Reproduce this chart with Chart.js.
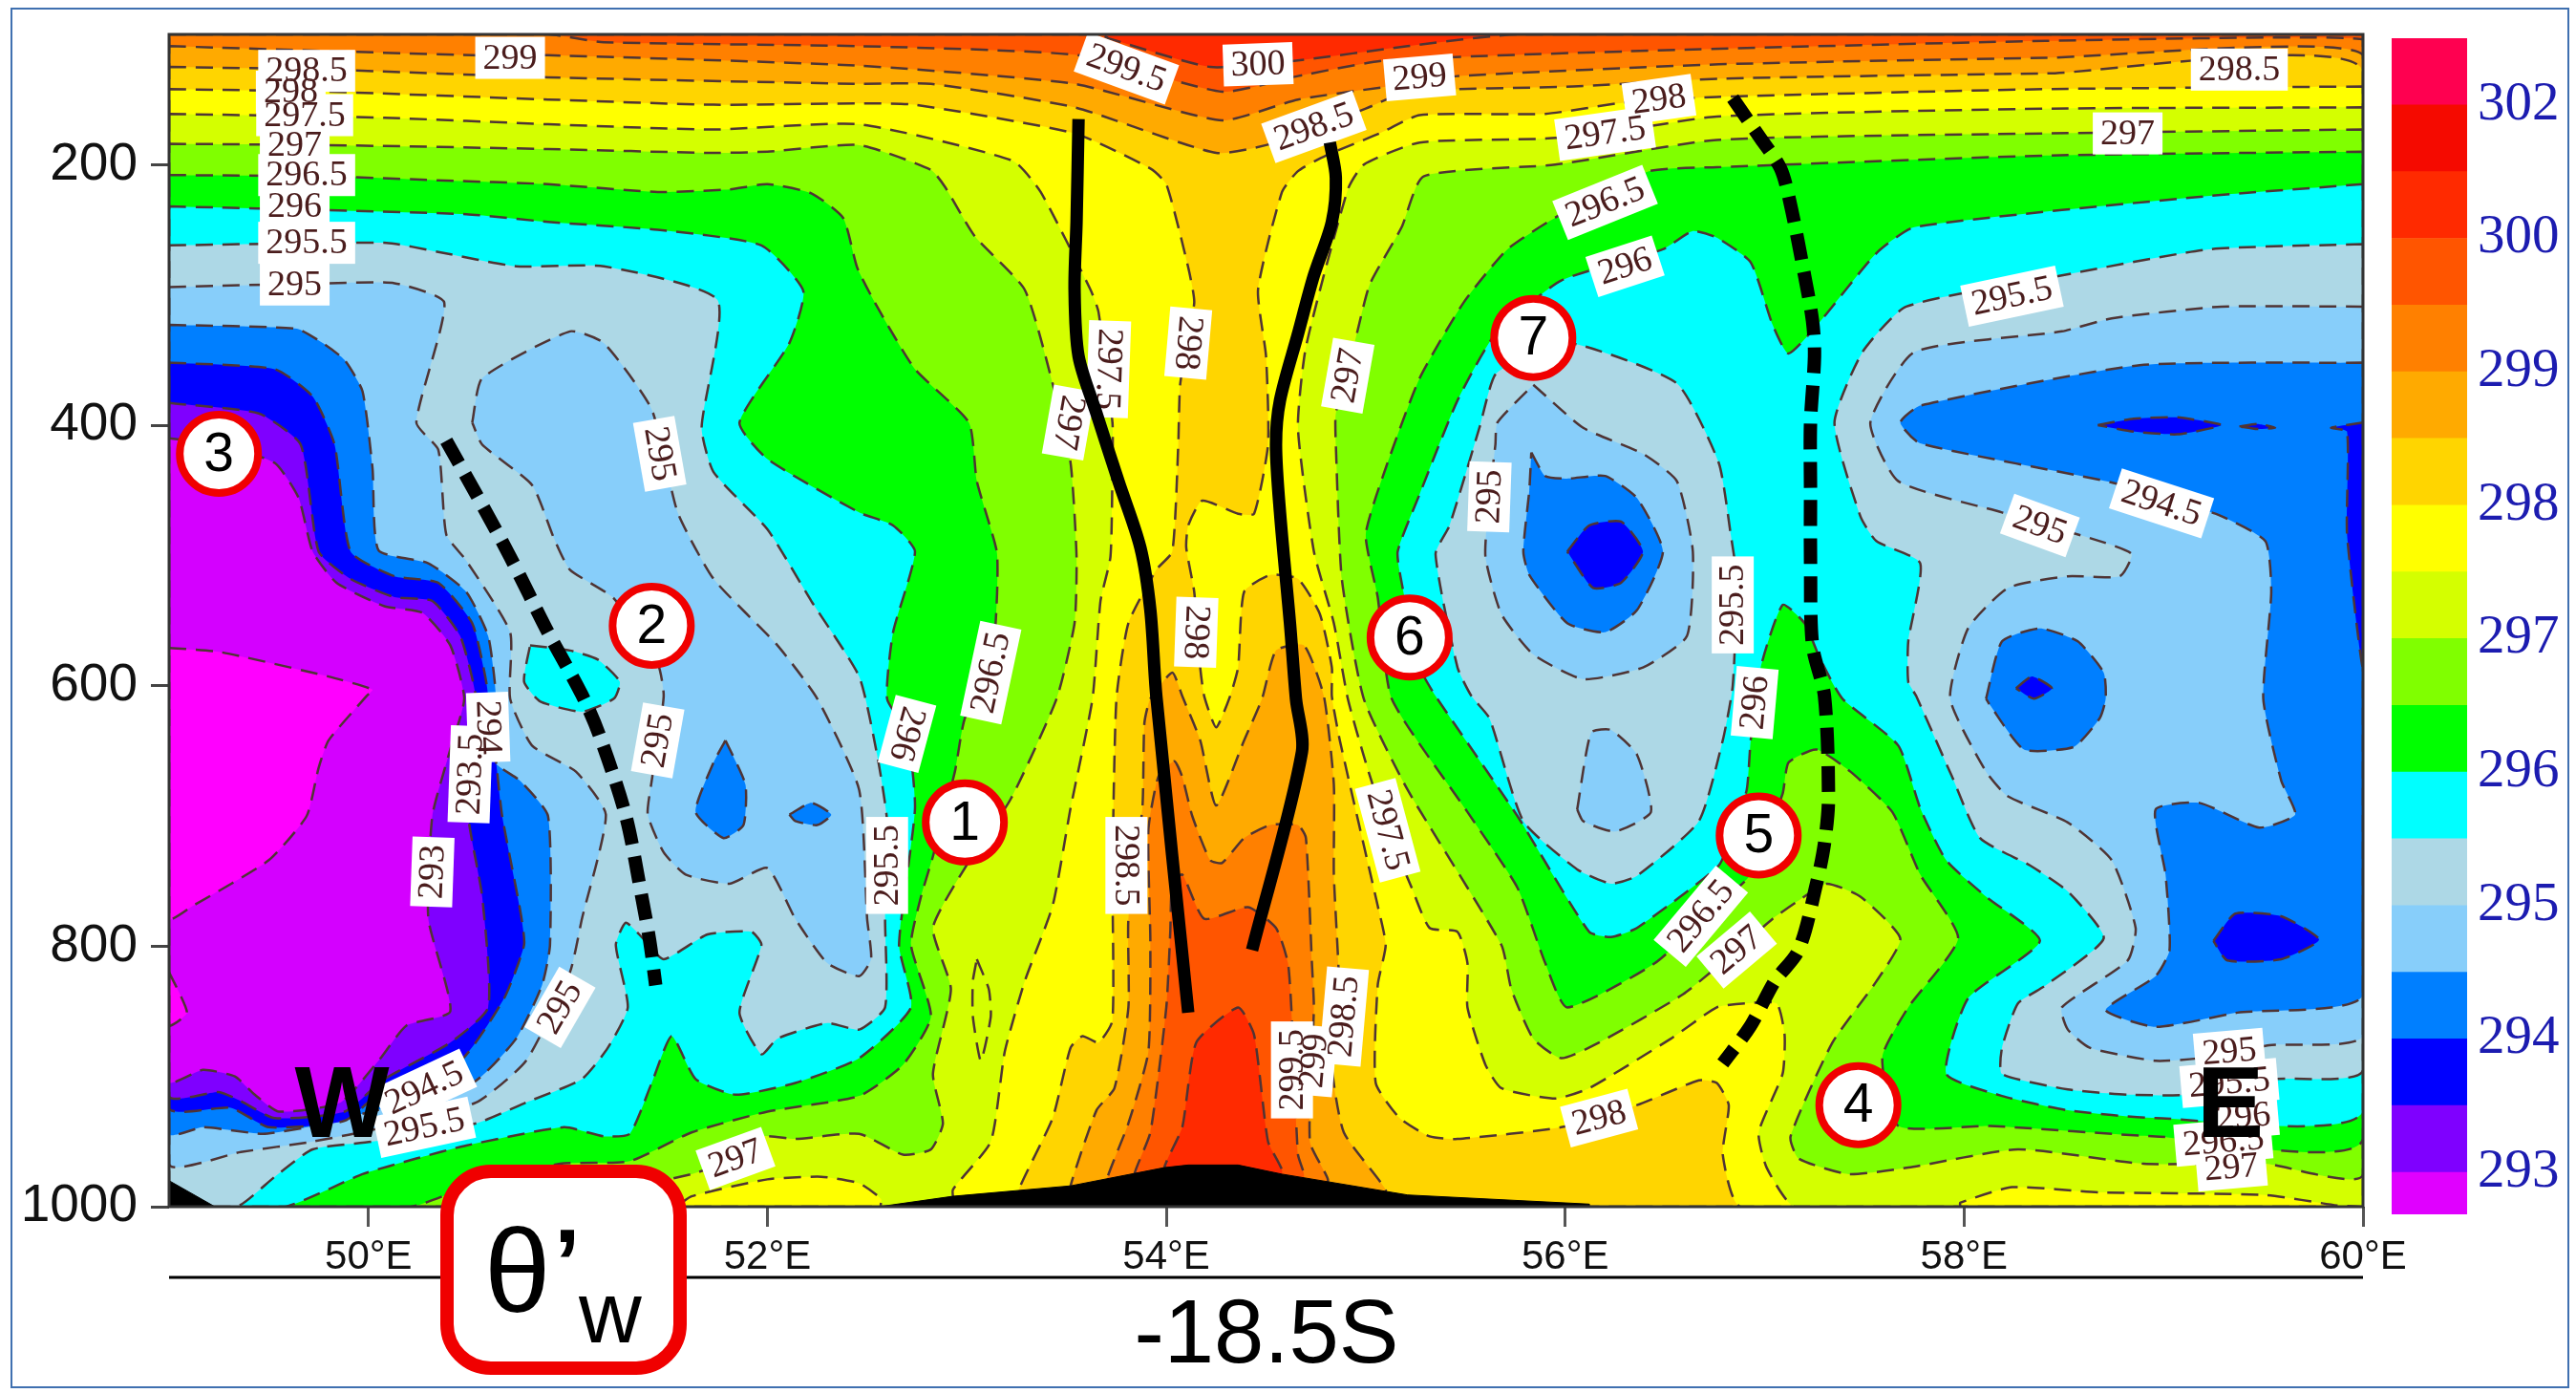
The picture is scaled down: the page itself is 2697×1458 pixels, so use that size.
<!DOCTYPE html>
<html>
<head>
<meta charset="utf-8">
<title>theta'w section -18.5S</title>
<script src="https://cdn.jsdelivr.net/npm/chart.js@4"></script>
<style>
    html, body { margin: 0; padding: 0; background: #fff; overflow: hidden; }
    #page { position: relative; width: 2697px; height: 1458px; }
    #page canvas { position: absolute; top: 0; }
    #mainChart { left: 0; }
    #barChart { left: 2440px; }
    #edge { position: absolute; left: 11px; top: 8px; width: 2675px; height: 1441px; border: 2px solid #3f70b0; }
</style>
</head>
<body>
<div id="page">
    <div id="edge"></div>
    <canvas id="mainChart" width="2697" height="1458"></canvas>
    <canvas id="barChart" width="257" height="1458"></canvas>
</div>
<script>
// Axis ticks
const lonTicks = [50, 52, 54, 56, 58, 60];
const pressureTicks = [200, 400, 600, 800, 1000];

// Colour bar, bottom to top
const barValues = [0.63, 1, 1, 1, 1, 1, 1, 1, 1, 1, 1, 1, 1, 1, 1, 1, 1, 1];
const barColors = ['#e000ff', '#7f00ff', '#0000ff', '#007fff', '#87cefa', '#add8e6', '#00ffff', '#00ff00', '#80ff00',
    '#d4ff00', '#ffff00', '#ffd500', '#ffaa00', '#ff8000', '#ff5500', '#ff2a00', '#f50a00', '#ff0050'];
const barTickAt = [0.63, 2.63, 4.63, 6.63, 8.63, 10.63, 12.63, 14.63, 16.63];
const barTickText = ['293', '294', '295', '296', '297', '298', '299', '300', '302'];

// Contour regions, [lon, hPa], region below the named level
const wholeField = [[49, 100], [60, 100], [60, 1000], [49, 1000]];
const below300 = [[49, 100], [53.67, 100], [53.71, 103], [54.22, 125], [54.66, 120], [55.21, 109], [55.76, 100], [60, 100], [60, 1000], [54.58, 1000], [54.58, 972], [54.51, 950], [54.44, 868], [54.36, 847], [54.15, 874], [54.08, 939], [53.99, 970], [53.99, 1000], [49, 1000]];
const below299_5 = [[49, 100], [50.9, 100], [51.18, 106], [52.46, 109], [53.56, 116], [54.28, 144], [54.66, 132], [55.1, 120], [56.31, 113], [58.41, 105], [60, 104], [60, 1000], [54.69, 1000], [54.69, 975], [54.66, 960], [54.63, 857], [54.61, 813], [54.55, 786], [54.41, 770], [54.19, 779], [54.08, 745], [54.03, 752], [54.02, 789], [54, 847], [53.92, 943], [53.84, 975], [53.84, 1000], [49, 1000]];
const below299 = [[49, 109], [50.52, 116], [50.9, 116], [52.46, 124], [53.54, 138], [54.28, 166], [54.66, 150], [55.21, 138], [55.46, 132], [56.77, 123], [58.41, 118], [60, 116], [60, 1000], [54.81, 1000], [54.81, 979], [54.72, 950], [54.74, 847], [54.73, 813], [54.7, 717], [54.66, 707], [54.52, 707], [54.39, 717], [54.28, 736], [54.22, 734], [54.13, 700], [54.08, 670], [54.04, 658], [53.96, 670], [53.91, 711], [53.92, 796], [53.91, 881], [53.81, 936], [53.7, 980], [53.7, 1000], [49, 1000]];
const below298_5 = [[49, 125], [49.8, 127], [50.9, 133], [52.46, 138], [52.82, 138], [53.54, 156], [54.25, 191], [54.55, 183], [55, 157], [55.21, 144], [56.04, 140], [56.77, 134], [58.41, 130], [60, 128], [60, 1000], [55.1, 1000], [55.1, 987], [54.89, 943], [54.83, 891], [54.87, 847], [54.84, 745], [54.84, 676], [54.79, 608], [54.69, 569], [54.55, 573], [54.48, 610], [54.39, 642], [54.25, 692], [54.17, 642], [54.08, 608], [54.03, 590], [53.92, 610], [53.89, 629], [53.88, 694], [53.81, 779], [53.81, 847], [53.74, 909], [53.65, 926], [53.52, 984], [53.52, 1000], [49, 1000]];
const below298W = [[49, 142], [49.8, 144], [50.9, 150], [51.73, 154], [52.46, 153], [52.74, 154], [53.54, 176], [53.92, 203], [54, 215], [54.11, 279], [54.14, 306], [54.07, 368], [54.06, 415], [54.03, 497], [53.95, 511], [53.81, 552], [53.75, 610], [53.73, 745], [53.73, 857], [53.66, 874], [53.58, 869], [53.52, 878], [53.43, 932], [53.26, 987], [53.26, 1000], [49, 1000]];
const below298E = [[60, 140], [58.41, 142], [56.76, 148], [56.31, 152], [55.9, 161], [55.27, 162], [55.07, 176], [54.8, 193], [54.66, 205], [54.58, 221], [54.46, 296], [54.5, 347], [54.51, 415], [54.44, 468], [54.36, 468], [54.18, 458], [54.11, 477], [54.1, 494], [54.14, 528], [54.17, 586], [54.19, 608], [54.25, 632], [54.32, 608], [54.36, 586], [54.39, 528], [54.52, 515], [54.66, 518], [54.77, 545], [54.83, 586], [54.83, 608], [54.87, 642], [55.06, 769], [55.1, 799], [55.06, 830], [55.05, 905], [55.17, 932], [55.32, 946], [55.46, 948], [55.98, 939], [56.36, 922], [56.67, 903], [56.76, 905], [56.82, 922], [56.79, 960], [56.88, 1000], [60, 1000]];
const below297_5W = [[49, 161], [50.08, 164], [50.9, 169], [51.73, 173], [52.46, 169], [53.23, 197], [53.37, 221], [53.62, 296], [53.66, 313], [53.73, 398], [53.73, 432], [53.72, 501], [53.67, 535], [53.63, 610], [53.52, 694], [53.43, 769], [53.29, 827], [53.19, 881], [53.12, 950], [52.93, 987], [52.93, 1000], [52.57, 1000], [52.57, 994], [52.46, 982], [52.27, 977], [52, 979], [51.62, 992], [51.53, 1000], [49, 1000]];
const below297_5E = [[60, 156], [58.41, 157], [56.76, 163], [56.2, 176], [55.9, 180], [55.27, 183], [54.99, 200], [54.91, 219], [54.7, 340], [54.66, 402], [54.74, 497], [54.84, 552], [54.91, 610], [55, 659], [55.11, 711], [55.23, 755], [55.32, 786], [55.46, 789], [55.51, 813], [55.51, 847], [55.6, 891], [55.68, 909], [55.95, 917], [56.12, 909], [56.53, 871], [56.76, 847], [56.9, 844], [57.06, 844], [57.1, 868], [57.09, 898], [56.97, 943], [57.01, 970], [57.15, 1000], [57.98, 1000], [57.98, 997], [58.24, 985], [58.68, 989], [59.51, 991], [59.87, 999], [60, 1000]];
const ring297_5 = [[53.05, 810], [53.11, 833], [53.12, 854], [53.07, 888], [53.03, 854], [53.03, 827]];
const below297W = [[49, 184], [49.8, 185], [50.9, 188], [51.73, 191], [52, 190], [52.46, 185], [52.82, 204], [52.89, 217], [53.04, 255], [53.29, 296], [53.43, 368], [53.52, 429], [53.55, 501], [53.54, 552], [53.45, 610], [53.22, 687], [52.99, 740], [52.83, 786], [52.92, 833], [52.83, 898], [52.88, 936], [52.82, 956], [52.68, 960], [52.46, 944], [52.14, 948], [51.97, 946], [51.83, 963], [51.62, 975], [50.79, 1000], [49, 1000]];
const below297E = [[60, 173], [58.41, 176], [56.76, 181], [55.95, 200], [55.29, 209], [55.18, 248], [55.02, 292], [54.95, 333], [54.85, 391], [54.85, 415], [54.88, 518], [54.99, 610], [55.21, 680], [55.68, 799], [55.73, 833], [55.84, 871], [55.98, 886], [56.17, 874], [56.59, 837], [56.86, 803], [57.04, 779], [57.17, 765], [57.31, 752], [57.48, 762], [57.68, 794], [57.56, 827], [57.34, 874], [57.13, 946], [57.17, 963], [57.42, 975], [57.72, 970], [58.27, 956], [58.9, 967], [59.51, 967], [60, 975]];
const below296_5W = [[49, 208], [49.8, 209], [50.35, 212], [50.9, 215], [51.45, 221], [51.81, 219], [52, 215], [52.22, 222], [52.38, 241], [52.45, 279], [52.55, 309], [52.74, 357], [53.01, 398], [53.05, 443], [53.15, 497], [53.15, 535], [53.12, 590], [52.99, 625], [52.94, 666], [52.83, 731], [52.77, 762], [52.72, 799], [52.82, 854], [52.68, 891], [52.46, 915], [52, 927], [51.62, 943], [51.31, 965], [50.96, 967], [50.54, 982], [50.21, 1000], [49, 1000]];
const below296_5E = [[60, 190], [58.41, 193], [56.76, 202], [56.42, 205], [55.98, 238], [55.71, 265], [55.49, 306], [55.27, 364], [55.1, 433], [55, 484], [55.06, 532], [55.13, 610], [55.51, 697], [55.76, 755], [55.9, 813], [56.01, 847], [56.45, 813], [56.76, 769], [56.93, 745], [57.09, 683], [57.12, 659], [57.26, 649], [57.43, 666], [57.64, 697], [57.78, 745], [57.97, 794], [57.72, 847], [57.59, 885], [57.67, 938], [58.13, 938], [58.96, 946], [60, 948]];
const below296W = [[49, 232], [50.49, 238], [50.9, 244], [51.45, 250], [51.97, 262], [52.18, 297], [52.11, 337], [51.86, 398], [52, 426], [52.46, 467], [52.63, 477], [52.74, 497], [52.63, 559], [52.6, 610], [52.7, 636], [52.74, 694], [52.66, 799], [52.72, 847], [52.46, 886], [52.14, 905], [51.84, 914], [51.64, 902], [51.52, 869], [51.42, 905], [51.31, 944], [51.18, 946], [50.98, 939], [50.49, 953], [50.24, 963], [49.97, 975], [49.58, 1000], [49, 1000]];
const below296E = [[60, 215], [59.23, 224], [57.75, 248], [57.56, 268], [57.28, 320], [57.12, 345], [57.04, 323], [56.93, 275], [56.76, 256], [56.64, 251], [56.49, 265], [55.98, 289], [55.65, 330], [55.46, 381], [55.27, 453], [55.16, 497], [55.18, 521], [55.27, 586], [55.35, 608], [55.76, 700], [56.12, 789], [56.23, 793], [56.36, 786], [56.77, 738], [56.84, 711], [56.91, 680], [56.93, 642], [56.98, 586], [57.09, 538], [57.2, 552], [57.28, 580], [57.39, 610], [57.67, 646], [57.78, 694], [57.91, 734], [58.11, 762], [58.38, 796], [58.02, 840], [57.91, 898], [58.19, 915], [58.52, 926], [58.96, 932], [60, 926]];
const below295_5W = [[49, 262], [50.09, 260], [50.35, 267], [50.74, 278], [51.18, 278], [51.75, 304], [51.67, 402], [51.73, 436], [52, 480], [52.22, 535], [52.46, 593], [52.55, 653], [52.6, 704], [52.59, 779], [52.59, 847], [52.46, 864], [52.3, 859], [52.05, 871], [51.97, 883], [51.86, 851], [51.97, 799], [51.92, 789], [51.7, 791], [51.48, 810], [51.37, 793], [51.29, 782], [51.24, 799], [51.3, 847], [51.2, 878], [51.07, 902], [50.79, 920], [50.54, 936], [50.02, 950], [49.72, 956], [49.53, 977], [49.34, 1000], [49, 1000]];
const below295_5E = [[60, 261], [59.23, 265], [58.49, 285], [57.71, 309], [57.49, 344], [57.35, 398], [57.48, 470], [57.56, 489], [57.78, 506], [57.72, 566], [57.72, 597], [57.76, 608], [57.94, 670], [58.08, 717], [58.33, 738], [58.52, 758], [58.7, 794], [58.41, 830], [58.27, 844], [58.19, 878], [58.19, 898], [58.52, 910], [58.82, 914], [59.12, 914], [59.56, 902], [60, 895]];
const below295_5C = [[55.84, 344], [56.06, 338], [56.56, 368], [56.77, 429], [56.83, 484], [56.86, 518], [56.84, 600], [56.79, 642], [56.67, 704], [56.36, 746], [56.23, 752], [56.06, 741], [55.79, 704], [55.62, 625], [55.53, 608], [55.46, 586], [55.35, 499], [55.42, 477], [55.57, 402], [55.65, 361]];
const above295_5W = [[50.81, 569], [51.01, 573], [51.15, 580], [51.26, 597], [51.23, 610], [51.07, 620], [50.86, 612], [50.78, 597]];
const below295W = [[49, 294], [49.8, 291], [50.13, 291], [50.38, 306], [50.24, 398], [50.35, 419], [50.39, 484], [50.49, 504], [50.71, 559], [50.71, 610], [50.82, 646], [51.04, 666], [51.19, 699], [51.07, 779], [51.01, 820], [50.79, 888], [50.54, 920], [50.08, 939], [49.72, 950], [49.36, 958], [49, 967]];
const below295Inner = [[50.52, 398], [50.57, 364], [51.01, 328], [51.18, 337], [51.42, 388], [51.55, 467], [51.73, 518], [52.05, 569], [52.25, 610], [52.46, 680], [52.5, 779], [52.52, 810], [52.46, 823], [52.3, 813], [52.14, 779], [52, 740], [51.81, 752], [51.59, 745], [51.48, 728], [51.4, 699], [51.42, 673], [51.48, 608], [51.45, 583], [51.23, 533], [51.01, 511], [50.93, 487], [50.82, 446], [50.57, 415]];
const below295E = [[60, 309], [59.29, 309], [58.74, 318], [58.49, 328], [57.75, 344], [57.53, 398], [57.67, 443], [58.19, 467], [58.68, 489], [58.84, 499], [58.78, 516], [58.52, 516], [58.22, 525], [58.02, 556], [57.93, 610], [58.11, 666], [58.22, 685], [58.52, 705], [58.74, 734], [58.86, 786], [58.82, 811], [58.49, 847], [58.52, 864], [58.63, 878], [58.96, 888], [59.18, 886], [59.53, 876], [60, 868]];
const below295C = [[55.84, 369], [56.09, 402], [56.39, 422], [56.56, 443], [56.64, 497], [56.61, 562], [56.39, 586], [56.09, 595], [55.84, 576], [55.68, 545], [55.6, 501], [55.62, 455], [55.65, 415], [55.66, 398]];
const below295Low = [[56.06, 695], [56.13, 636], [56.23, 634], [56.36, 653], [56.43, 697], [56.25, 712], [56.09, 704]];
const below294_5W = [[49, 323], [49.64, 326], [49.77, 337], [49.88, 350], [49.97, 374], [50.02, 433], [50.05, 496], [50.3, 506], [50.49, 528], [50.6, 562], [50.64, 610], [50.63, 658], [50.76, 673], [50.9, 700], [50.91, 799], [50.87, 830], [50.74, 871], [50.52, 905], [49.72, 938], [49.47, 944], [49.17, 939], [49, 944]];
const below294_5A = [[51.79, 642], [51.89, 676], [51.88, 707], [51.78, 717], [51.64, 697], [51.73, 659]];
const below294_5B = [[52.11, 699], [52.22, 690], [52.32, 699], [52.25, 707], [52.14, 704]];
const below294_5C = [[55.83, 421], [55.9, 439], [56.01, 441], [56.2, 439], [56.36, 456], [56.49, 497], [56.36, 542], [56.2, 559], [56.01, 552], [55.82, 515], [55.79, 497], [55.82, 450]];
const below294_5E = [[60, 352], [58.88, 354], [57.78, 385], [57.68, 398], [57.78, 414], [58.74, 444], [59.26, 468], [59.51, 489], [59.54, 528], [59.5, 610], [59.59, 673], [59.66, 699], [59.48, 709], [59.18, 690], [58.96, 695], [59.01, 745], [59.03, 803], [58.96, 823], [58.71, 849], [58.96, 862], [59.37, 851], [60, 837]];
const below294_5F = [[58.11, 610], [58.19, 566], [58.38, 556], [58.57, 566], [58.7, 590], [58.71, 610], [58.68, 625], [58.55, 647], [58.3, 649], [58.13, 615]];
const below294W = [[49, 352], [49.53, 357], [49.72, 378], [49.83, 415], [49.91, 497], [50.13, 516], [50.35, 521], [50.52, 552], [50.59, 597], [50.64, 659], [50.67, 700], [50.76, 772], [50.78, 799], [50.68, 840], [50.46, 888], [50.1, 907], [49.88, 934], [49.5, 939], [49.31, 924], [49, 924]];
const below294C = [[56.01, 497], [56.12, 477], [56.28, 474], [56.39, 497], [56.28, 521], [56.14, 525]];
const below294Lens = [[58.67, 400], [58.85, 395], [59.07, 394], [59.29, 400], [59.07, 407], [58.85, 405]];
const below294Dash = [[59.38, 401], [59.47, 399], [59.56, 402], [59.47, 403]];
const below294Edge = [[60, 398], [59.84, 402], [59.92, 405], [59.92, 484], [60, 586]];
const below294Dot = [[58.26, 602], [58.34, 593], [58.44, 602], [58.35, 610]];
const below294Low = [[59.25, 796], [59.36, 775], [59.59, 777], [59.78, 795], [59.59, 810], [59.32, 811]];
const below293_5W = [[49, 383], [49.45, 391], [49.66, 415], [49.75, 497], [49.91, 518], [50.13, 532], [50.32, 535], [50.46, 562], [50.54, 610], [50.52, 642], [50.5, 700], [50.57, 762], [50.6, 847], [50.41, 874], [50.08, 902], [49.88, 927], [49.53, 932], [49.36, 919], [49.25, 912], [49, 915]];
const below293W = [[49, 410], [49.25, 415], [49.53, 429], [49.65, 456], [49.72, 497], [49.84, 521], [50.08, 539], [50.27, 544], [50.41, 569], [50.48, 610], [50.41, 649], [50.32, 700], [50.3, 779], [50.41, 850], [50.19, 861], [50.05, 888], [49.86, 920], [49.55, 927], [49.43, 914], [49.33, 900], [49.17, 895], [49, 904]];
const below292_5W = [[49, 571], [49.25, 574], [49.8, 593], [50.02, 603], [49.99, 608], [49.8, 642], [49.75, 663], [49.69, 700], [49.5, 734], [49.12, 769], [49, 779]];
const below292_5S = [[49, 820], [49.09, 851], [49, 861]];

// Terrain
const terrain = [[52.56, 1000], [52.93, 992], [53.52, 984], [53.99, 970], [54.11, 968], [54.36, 968], [54.58, 975], [55.21, 991], [56.12, 998], [56.12, 1000]];
const cornerTerrain = [[49, 980], [49.23, 1000], [49, 1000]];

// Hand drawn overlays
const solidLineA = [[53.56, 165], [53.55, 244], [53.54, 296], [53.56, 347], [53.65, 391], [53.76, 443], [53.87, 494], [53.92, 542], [53.95, 608], [54.11, 851]];
const solidLineB = [[54.82, 183], [54.85, 210], [54.83, 244], [54.74, 285], [54.66, 330], [54.57, 381], [54.55, 415], [54.57, 467], [54.62, 552], [54.65, 610], [54.68, 651], [54.43, 803]];
const dashLineA = [[50.39, 412], [50.54, 453], [50.71, 501], [50.9, 559], [51.07, 607], [51.16, 639], [51.29, 700], [51.37, 762], [51.41, 796], [51.44, 830]];
const dashLineB = [[56.84, 149], [56.98, 180], [57.08, 203], [57.13, 231], [57.2, 285], [57.24, 320], [57.25, 347], [57.23, 398], [57.23, 450], [57.23, 504], [57.24, 569], [57.3, 608], [57.32, 687], [57.3, 721], [57.26, 752], [57.17, 803], [57.05, 827], [56.93, 861], [56.79, 890]];

// Numbered circles
const circleText = ['1', '2', '3', '4', '5', '6', '7'];
const circleLon = [52.99, 51.42, 49.25, 57.47, 56.97, 55.22, 55.84];
const circleP = [705, 554, 422, 922, 715, 563, 333];

// Contour labels
const labelText = ['298.5', '298', '297.5', '297', '296.5', '296', '295.5', '295', '299',
    '299.5', '300', '299', '298.5', '297.5', '298', '296.5', '296',
    '298', '297.5', '297', '297', '295', '298', '296.5',
    '296', '295.5', '298.5', '297.5', '298.5', '299', '299.5', '298', '296.5', '297',
    '294', '293.5', '293', '295', '294.5', '295.5', '297', '295', '295',
    '298.5', '297', '295.5', '295', '294.5', '295.5', '296',
    '295', '295.5', '296', '296.5', '297'];
const labelLon = [49.69, 49.61, 49.68, 49.63, 49.69, 49.63, 49.69, 49.63, 50.71,
    53.8, 54.46, 55.27, 54.74, 56.2, 56.47, 56.2, 56.3,
    54.11, 53.71, 53.51, 54.91, 55.62, 54.15, 53.12,
    52.7, 52.6, 53.8, 55.11, 54.89, 54.74, 54.63, 56.17, 56.68, 56.86,
    50.6, 50.51, 50.32, 50.96, 50.28, 50.28, 51.84, 51.46, 51.45,
    59.38, 58.82, 58.24, 58.38, 58.99, 56.84, 56.95,
    59.33, 59.33, 59.4, 59.3, 59.34];
const labelP = [128, 144, 162, 185, 208, 232, 260, 292, 118,
    126, 123, 133, 171, 176, 150, 229, 278,
    337, 357, 398, 362, 455, 559, 590,
    637, 738, 738, 711, 854, 888, 895, 932, 777, 803,
    632, 668, 743, 847, 909, 939, 963, 422, 642,
    127, 176, 301, 477, 460, 538, 613,
    881, 905, 931, 950, 970];
const labelAngle = [0, 0, 0, 0, 0, 0, 0, 0, 0,
    20, -2, -5, -20, -8, -8, -22, -18,
    95, 92, 100, -80, -88, 92, -78,
    105, -90, 90, 75, -85, -85, -90, -15, -50, -40,
    88, -88, -88, -60, -25, -12, -20, 80, -80,
    0, 0, -12, 20, 18, -90, -85,
    -5, -5, -5, -5, -5];

const fieldRegions = [
    [wholeField, '#ff2a00'], [below300, '#ff5500'], [below299_5, '#ff8000'], [below299, '#ffaa00'], [below298_5, '#ffd500'],
    [below298W, '#ffff00'], [below298E, '#ffff00'],
    [below297_5W, '#d4ff00'], [below297_5E, '#d4ff00'], [ring297_5, '#d4ff00'],
    [below297W, '#80ff00'], [below297E, '#80ff00'],
    [below296_5W, '#00ff00'], [below296_5E, '#00ff00'],
    [below296W, '#00ffff'], [below296E, '#00ffff'],
    [below295_5W, '#add8e6'], [below295_5E, '#add8e6'], [below295_5C, '#add8e6'], [above295_5W, '#00ffff'],
    [below295W, '#87cefa'], [below295Inner, '#87cefa'], [below295E, '#87cefa'], [below295C, '#87cefa'], [below295Low, '#87cefa'],
    [below294_5W, '#007fff'], [below294_5A, '#007fff'], [below294_5B, '#007fff'], [below294_5C, '#007fff'], [below294_5E, '#007fff'], [below294_5F, '#007fff'],
    [below294W, '#0000ff'], [below294C, '#0000ff'], [below294Lens, '#0000ff'], [below294Dash, '#0000ff'], [below294Edge, '#0000ff'], [below294Dot, '#0000ff'], [below294Low, '#0000ff'],
    [below293_5W, '#7f00ff'], [below293W, '#d400ff'], [below292_5W, '#ff00ff'], [below292_5S, '#ff00ff']
];

function toPoints(list) {
    return list.map(p => ({ x: p[0], y: p[1] }));
}

function buildDatasets() {
    const sets = [];
    fieldRegions.forEach(([region, colour], i) => {
        sets.push({
            data: toPoints(region.concat([region[0]])),
            showLine: true,
            fill: 'shape',
            tension: i === 0 ? 0 : 0.18,
            backgroundColor: colour,
            borderColor: i === 0 ? colour : '#4f3434',
            borderWidth: i === 0 ? 0 : 2.5,
            borderDash: [18, 10],
            pointRadius: 0
        });
    });
    [terrain, cornerTerrain].forEach(region => {
        sets.push({ data: toPoints(region.concat([region[0]])), showLine: true, fill: 'shape', backgroundColor: '#000', borderColor: '#000', borderWidth: 1, pointRadius: 0 });
    });
    [solidLineA, solidLineB].forEach(line => {
        sets.push({ data: toPoints(line), showLine: true, fill: false, tension: 0.3, borderColor: '#000', borderWidth: 13, pointRadius: 0 });
    });
    [dashLineA, dashLineB].forEach(line => {
        sets.push({ data: toPoints(line), showLine: true, fill: false, tension: 0.3, borderColor: '#000', borderWidth: 14, borderDash: [27, 13], pointRadius: 0 });
    });
    sets.push({
        data: circleLon.map((lon, i) => ({ x: lon, y: circleP[i] })),
        showLine: false,
        pointRadius: 41,
        pointBackgroundColor: '#fff',
        pointBorderColor: '#f00000',
        pointBorderWidth: 8
    });
    // highest order is painted first
    sets.forEach((s, i) => { s.order = sets.length - i; });
    return sets;
}

const lastField = fieldRegions.length + 1;

// White boxed labels go over the contours but under the black lines
const contourLabels = {
    id: 'contourLabels',
    afterDatasetDraw(chart, args) {
        if (args.index !== lastField) return;
        const ctx = chart.ctx;
        const xs = chart.scales.x, ys = chart.scales.y;

        function eachLabel(paint) {
            labelText.forEach((txt, i) => {
                ctx.save();
                ctx.translate(xs.getPixelForValue(labelLon[i]), ys.getPixelForValue(labelP[i]));
                ctx.rotate(labelAngle[i] * Math.PI / 180);
                paint(txt);
                ctx.restore();
            });
        }

        ctx.save();
        ctx.font = '38px "Liberation Serif"';
        ctx.textAlign = 'center';
        ctx.textBaseline = 'middle';
        // boxes first so stacked labels do not hide each other's digits
        ctx.fillStyle = '#fff';
        eachLabel(txt => {
            const w = ctx.measureText(txt).width + 16;
            ctx.fillRect(-w / 2, -22, w, 44);
        });
        ctx.fillStyle = '#4a1c1c';
        eachLabel(txt => ctx.fillText(txt, 0, 1));
        ctx.restore();
    }
};

const annotations = {
    id: 'annotations',
    afterDatasetsDraw(chart) {
        const ctx = chart.ctx;
        const area = chart.chartArea;
        const xs = chart.scales.x, ys = chart.scales.y;
        ctx.save();

        ctx.strokeStyle = '#333';
        ctx.lineWidth = 3;
        ctx.strokeRect(area.left, area.top, area.right - area.left, area.bottom - area.top);

        ctx.fillStyle = '#000';
        ctx.textAlign = 'center';
        ctx.textBaseline = 'middle';
        ctx.font = '57px "Liberation Sans"';
        circleText.forEach((txt, i) => {
            ctx.fillText(txt, xs.getPixelForValue(circleLon[i]), ys.getPixelForValue(circleP[i]) + 2);
        });

        ctx.textBaseline = 'alphabetic';
        ctx.font = 'bold 105px "Liberation Sans"';
        ctx.fillText('W', 358, 1190);
        ctx.fillText('E', 2335, 1190);

        // rule under the longitudes
        ctx.strokeStyle = '#000';
        ctx.lineWidth = 3;
        ctx.beginPath();
        ctx.moveTo(area.left, 1337);
        ctx.lineTo(area.right, 1337);
        ctx.stroke();

        ctx.font = '94px "Liberation Sans"';
        ctx.fillText('-18.5S', 1326, 1426);

        // theta'w box
        ctx.fillStyle = '#fff';
        ctx.strokeStyle = '#f00000';
        ctx.lineWidth = 14;
        ctx.beginPath();
        ctx.roundRect(468, 1226, 244, 206, 46);
        ctx.fill();
        ctx.stroke();
        ctx.fillStyle = '#000';
        ctx.textAlign = 'left';
        ctx.font = '125px "Liberation Sans"';
        ctx.fillText('θ', 507, 1373);
        ctx.font = 'bold 100px "Liberation Sans"';
        ctx.fillText('’', 580, 1356);
        ctx.font = '91px "Liberation Sans"';
        ctx.fillText('w', 606, 1405);
        ctx.restore();
    }
};

function initializeMainChart() {
    new Chart(document.getElementById('mainChart'), {
        type: 'scatter',
        data: { datasets: buildDatasets() },
        plugins: [contourLabels, annotations],
        options: {
            responsive: false,
            animation: false,
            // the big circles would otherwise push the plot area down
            layout: { autoPadding: false, padding: { top: 36, right: 223, left: 0, bottom: 0 } },
            plugins: { legend: { display: false }, tooltip: { enabled: false } },
            scales: {
                x: {
                    type: 'linear',
                    min: 49,
                    max: 60,
                    afterFit: scale => { scale.height = 195; scale.paddingLeft = 0; scale.paddingRight = 0; },
                    afterBuildTicks: scale => { scale.ticks = lonTicks.map(v => ({ value: v })); },
                    grid: { drawOnChartArea: false, drawTicks: true, tickLength: 21, color: '#555', lineWidth: 3 },
                    border: { display: false },
                    ticks: {
                        color: '#111',
                        padding: 7,
                        maxRotation: 0,
                        autoSkip: false,
                        font: { family: 'Liberation Sans', size: 42 },
                        callback: value => value + '°E'
                    }
                },
                y: {
                    type: 'linear',
                    reverse: true,
                    min: 100,
                    max: 1000,
                    afterFit: scale => { scale.width = 177; scale.paddingTop = 0; scale.paddingBottom = 0; },
                    afterBuildTicks: scale => { scale.ticks = pressureTicks.map(v => ({ value: v })); },
                    grid: { drawOnChartArea: false, drawTicks: true, tickLength: 19, color: '#444', lineWidth: 3 },
                    border: { display: false },
                    ticks: {
                        color: '#111',
                        padding: 14,
                        autoSkip: false,
                        font: { family: 'Liberation Sans', size: 55 },
                        callback: value => String(value)
                    }
                }
            }
        }
    });
}

function initializeBarChart() {
    new Chart(document.getElementById('barChart'), {
        type: 'bar',
        data: {
            labels: [''],
            datasets: barValues.map((v, i) => ({
                data: [v],
                backgroundColor: barColors[i],
                categoryPercentage: 1,
                barPercentage: 1,
                borderWidth: 0
            }))
        },
        options: {
            responsive: false,
            animation: false,
            layout: { padding: { top: 40, bottom: 187, left: 64, right: 0 } },
            plugins: { legend: { display: false }, tooltip: { enabled: false } },
            scales: {
                x: { stacked: true, display: false },
                y: {
                    stacked: true,
                    position: 'right',
                    min: 0,
                    max: 17.63,
                    afterFit: scale => { scale.width = 114; scale.paddingTop = 0; scale.paddingBottom = 0; },
                    afterBuildTicks: scale => { scale.ticks = barTickAt.map(v => ({ value: v })); },
                    grid: { display: false, drawTicks: false },
                    border: { display: false },
                    ticks: {
                        color: '#1c1cb0',
                        padding: 11,
                        autoSkip: false,
                        font: { family: 'Liberation Serif', size: 57 },
                        callback: value => barTickText[barTickAt.indexOf(value)]
                    }
                }
            }
        }
    });
}

initializeMainChart();
initializeBarChart();
</script>
</body>
</html>
